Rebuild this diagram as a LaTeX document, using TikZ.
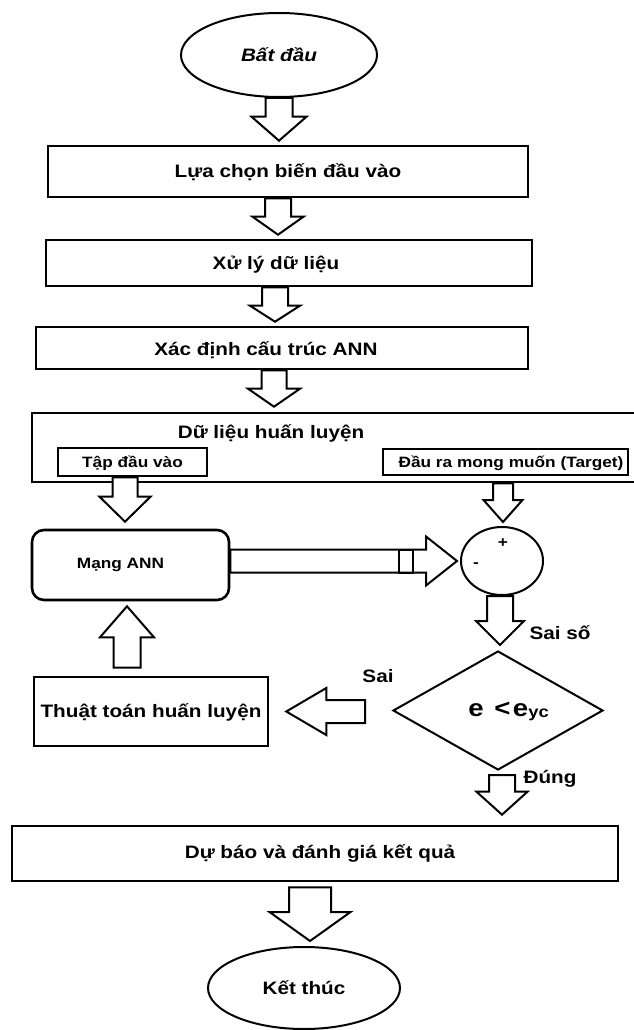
\documentclass[tikz,border=0pt]{standalone}
\usepackage{fontspec}
\setmainfont{Liberation Sans}[FakeStretch=1.15]
\usetikzlibrary{shapes.geometric,calc}
\newcommand\blockarrow[5]{%
  \path #1 coordinate (ba-a);
  \path #2 coordinate (ba-b);
  \path ($(ba-b)!#5!(ba-a)$) coordinate (ba-h);
  \draw[barrow] ($(ba-a)!#3!90:(ba-b)$) -- ($(ba-h)!#3!-90:(ba-a)$) -- ($(ba-h)!#4!-90:(ba-a)$) -- (ba-b) -- ($(ba-h)!#4!90:(ba-a)$) -- ($(ba-h)!#3!90:(ba-a)$) -- ($(ba-a)!#3!-90:(ba-b)$) -- cycle;%
}
\tikzset{
  bigtext/.style={font=\bfseries\fontsize{18}{20}\selectfont, text height=12.9pt, text depth=0pt},
  smalltext/.style={font=\bfseries\fontsize{15}{17}\selectfont, text height=10.8pt, text depth=0pt},
  box/.style={draw, line width=2.6pt, inner sep=0pt, fill=white},
  ell/.style={draw, ellipse, line width=2pt, inner sep=0pt, fill=white},
  txt/.style={inner sep=0pt},
  barrow/.style={draw, fill=white, line width=2pt, line join=miter},
}
\begin{document}
\begin{tikzpicture}[x=1pt,y=-1pt]
\useasboundingbox (0,0) rectangle (634,1030);
\fill[white] (0,0) rectangle (634,1030);

% main nodes
\node[ell, bigtext, minimum width=196pt, minimum height=84pt] (start) at (279,55) {\itshape Bất đầu};
\node[box, bigtext, minimum width=480pt, minimum height=51pt] (box1) at (288,171.5) {Lựa chọn biến đầu vào};
\node[box, minimum width=486pt, minimum height=46pt] (box2) at (289,263) {};
\node[txt, bigtext] (t2) at (276,263) {Xử lý dữ liệu};
\node[box, minimum width=492pt, minimum height=42pt] (box3) at (282,348) {};
\node[txt, bigtext] (t3) at (266,349) {Xác định cấu trúc ANN};
\node[box, minimum width=605pt, minimum height=69pt] (data) at (334.5,447.5) {};
\node[txt, bigtext] (datatitle) at (271,432) {Dữ liệu huấn luyện};
\node[box, smalltext, minimum width=149pt, minimum height=28pt] (inp) at (132.5,462) {Tập đầu vào};
\node[box, smalltext, minimum width=245pt, minimum height=26pt] (tgt) at (505.5,462) {\hspace{11pt}Đầu ra mong muốn (Target)};
\node[box, rounded corners=12pt, minimum width=197pt, minimum height=70pt] (ann) at (130.5,565) {};
\node[txt, smalltext] (anntext) at (120.5,563) {Mạng ANN};
\node[ell, minimum width=82pt, minimum height=68pt] (sum) at (502,561) {};
\node[txt, smalltext] (plus) at (503,542) {+};
\node[txt, smalltext] (minus) at (476,562) {-};
\node[draw, diamond, line width=2pt, inner sep=0pt, minimum width=210pt, minimum height=119pt] (cond) at (498,710.5) {};
\node[txt, font=\bfseries\fontsize{24}{26}\selectfont, text height=12.5pt, text depth=0pt] (condtext) at (508.5,710) {e\hspace{0.45em}<\hspace{0.1em}e\raisebox{-0.06em}{\fontsize{16}{16}\selectfont yc}};
\node[box, bigtext, minimum width=234pt, minimum height=69pt] (train) at (151,711.5) {Thuật toán huấn luyện};
\node[box, minimum width=606pt, minimum height=55pt] (fc) at (315,853.5) {};
\node[txt, bigtext] (fctext) at (320,852) {Dự báo và đánh giá kết quả};
\node[ell, bigtext, minimum width=192pt, minimum height=82pt] (end) at (304,988) {Kết thúc};

% labels
\node[txt, bigtext] (saiso) at (560,633) {Sai số};
\node[txt, bigtext] (sai) at (378,676) {Sai};
\node[txt, bigtext] (dung) at (550,777) {Đúng};

% block arrows
\blockarrow{(start.south)}{($(start.south |- box1.north)+(0,-4)$)}{13.5pt}{27.5pt}{24pt}
\blockarrow{($(box1.south)+(-10,0)$)}{($(box2.north)+(-11,-4)$)}{13pt}{25.5pt}{18pt}
\blockarrow{($(box2.south)+(-14,0)$)}{($(box3.north)+(-7,-4)$)}{13pt}{25pt}{16pt}
\blockarrow{($(box3.south)+(-8,0)$)}{($(data.north)+(-60.5,-5)$)}{12.5pt}{26pt}{18pt}
\blockarrow{($(inp.south)+(-7.5,0)$)}{($(ann.north)+(-5.5,-7)$)}{12.5pt}{25.5pt}{25pt}
\blockarrow{($(tgt.south |- data.south)+(-2.5,0)$)}{($(sum.north)+(1,-4)$)}{10pt}{19.5pt}{22pt}
\blockarrow{(ann.east |- sum.west)}{($(sum.west)+(-3,0)$)}{11.5pt}{24.5pt}{31pt}
\draw[line width=2pt] (399,549.5) rectangle (413,572.5);
\blockarrow{($(sum.south)+(-2,0)$)}{($(cond.north)+(2,-5)$)}{13pt}{24pt}{24pt}
\blockarrow{($(cond.west |- train.east)+(-27,0)$)}{($(train.east)+(17,0)$)}{11.5pt}{23.5pt}{40pt}
\blockarrow{($(train.north)+(-24,-8)$)}{($(ann.south)+(-3.5,5)$)}{13.5pt}{27pt}{31pt}
\blockarrow{($(cond.south)+(4,4)$)}{($(fc.north)+(187,-10)$)}{13pt}{25.5pt}{23pt}
\blockarrow{($(fc.south)+(-5,5)$)}{($(end.north)+(6,-5)$)}{21pt}{40.5pt}{29pt}
\end{tikzpicture}
\end{document}
